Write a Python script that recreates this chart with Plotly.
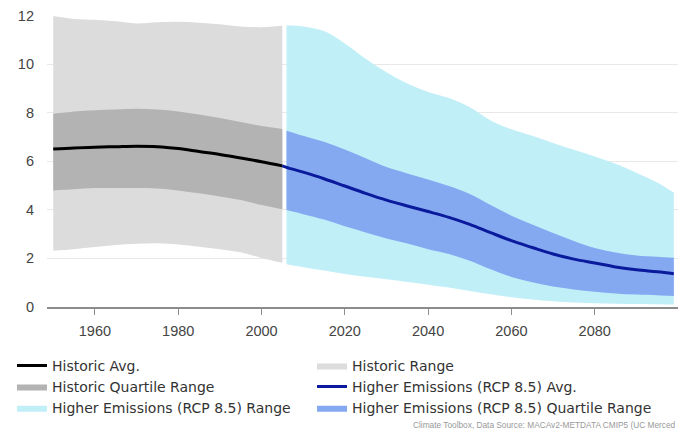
import plotly.graph_objects as go

# ---------------- data ----------------
hist_years = [1950, 1955, 1960, 1965, 1970, 1975, 1980, 1985, 1990, 1995, 2000, 2005]
hist_avg = [6.50, 6.55, 6.58, 6.60, 6.62, 6.60, 6.52, 6.40, 6.28, 6.13, 5.98, 5.81]
hist_q_lo = [4.80, 4.85, 4.90, 4.90, 4.90, 4.88, 4.80, 4.68, 4.55, 4.40, 4.20, 4.02]
hist_q_hi = [7.95, 8.05, 8.10, 8.13, 8.16, 8.13, 8.05, 7.92, 7.78, 7.62, 7.45, 7.33]
hist_r_lo = [2.32, 2.38, 2.47, 2.55, 2.60, 2.62, 2.57, 2.48, 2.38, 2.25, 2.02, 1.82]
hist_r_hi = [11.98, 11.86, 11.82, 11.76, 11.67, 11.72, 11.74, 11.70, 11.64, 11.55, 11.52, 11.58]

rcp_years = [2006, 2010, 2015, 2020, 2025, 2030, 2035, 2040, 2045, 2050,
             2055, 2060, 2065, 2070, 2075, 2080, 2085, 2090, 2095, 2099]
rcp_avg_years = [2005] + rcp_years
rcp_avg = [5.81, 5.75, 5.55, 5.28, 4.98, 4.68, 4.40, 4.16, 3.93, 3.69, 3.40,
           3.06, 2.73, 2.45, 2.18, 1.97, 1.81, 1.65, 1.53, 1.45, 1.37]
rcp_q_lo = [3.99, 3.82, 3.60, 3.32, 3.07, 2.82, 2.61, 2.38, 2.18, 1.90,
            1.55, 1.24, 1.02, 0.84, 0.72, 0.63, 0.56, 0.51, 0.48, 0.45]
rcp_q_hi = [7.26, 7.05, 6.80, 6.48, 6.12, 5.76, 5.50, 5.25, 4.98, 4.65,
            4.20, 3.76, 3.40, 3.05, 2.72, 2.43, 2.24, 2.12, 2.07, 2.03]
rcp_r_lo = [1.76, 1.64, 1.50, 1.36, 1.25, 1.14, 1.03, 0.92, 0.80, 0.66,
            0.52, 0.40, 0.31, 0.24, 0.19, 0.15, 0.13, 0.12, 0.11, 0.10]
rcp_r_hi = [11.60, 11.55, 11.36, 10.85, 10.22, 9.66, 9.20, 8.85, 8.60, 8.22,
            7.68, 7.32, 7.05, 6.75, 6.47, 6.20, 5.90, 5.53, 5.12, 4.70]

x_ticks = [1960, 1980, 2000, 2020, 2040, 2060, 2080]
y_ticks = [0, 2, 4, 6, 8, 10, 12]

names = {
    "hist_avg": "Historic Avg.",
    "hist_range": "Historic Range",
    "hist_quart": "Historic Quartile Range",
    "rcp_avg": "Higher Emissions (RCP 8.5) Avg.",
    "rcp_range": "Higher Emissions (RCP 8.5) Range",
    "rcp_quart": "Higher Emissions (RCP 8.5) Quartile Range",
}
source_text = "Climate Toolbox, Data Source: MACAv2-METDATA CMIP5 (UC Merced"

# ---------------- colours ----------------
C_HIST_RANGE = "#dcdcdc"
C_HIST_QUART = "#b3b3b3"
C_HIST_AVG = "#000000"
C_RCP_RANGE = "#c1eff8"
C_RCP_QUART = "#84a9f1"
C_RCP_AVG = "#0a1a9c"

fig = go.Figure()


def band(x, lo, hi, color, name, rank, legend):
    fig.add_trace(go.Scatter(x=x, y=lo, mode="lines", line=dict(width=0, shape="spline", color=color),
                             showlegend=False, hoverinfo="skip"))
    fig.add_trace(go.Scatter(x=x, y=hi, mode="lines", line=dict(width=0, shape="spline", color=color),
                             fill="tonexty", fillcolor=color, name=name, legendrank=rank,
                             legend=legend, hoverinfo="skip"))


band(hist_years, hist_r_lo, hist_r_hi, C_HIST_RANGE, names["hist_range"], 1, "legend2")
band(hist_years, hist_q_lo, hist_q_hi, C_HIST_QUART, names["hist_quart"], 2, "legend")
fig.add_trace(go.Scatter(x=hist_years, y=hist_avg, mode="lines",
                         line=dict(color=C_HIST_AVG, width=3, shape="spline"),
                         name=names["hist_avg"], legendrank=1, legend="legend"))
band(rcp_years, rcp_r_lo, rcp_r_hi, C_RCP_RANGE, names["rcp_range"], 3, "legend")
band(rcp_years, rcp_q_lo, rcp_q_hi, C_RCP_QUART, names["rcp_quart"], 3, "legend2")
fig.add_trace(go.Scatter(x=rcp_avg_years, y=rcp_avg, mode="lines",
                         line=dict(color=C_RCP_AVG, width=3, shape="spline"),
                         name=names["rcp_avg"], legendrank=2, legend="legend2"))

fig.add_annotation(text=source_text, xref="paper", yref="paper", x=1.0, y=-0.404,
                   xanchor="right", yanchor="middle", showarrow=False,
                   font=dict(family="Liberation Sans, Arial", size=8.3, color="#999999"))

legend_common = dict(orientation="v", yanchor="top", xanchor="left", traceorder="normal",
                     font=dict(family="DejaVu Sans", size=14, color="#333333"),
                     bgcolor="rgba(0,0,0,0)", tracegroupgap=0)

fig.update_layout(
    width=678, height=431,
    margin=dict(l=47, r=0, t=15, b=124),
    paper_bgcolor="white", plot_bgcolor="white",
    font=dict(family="Liberation Sans, Arial", color="#444444"),
    showlegend=True,
    legend=dict(x=-0.0555, y=-0.1465, **legend_common),
    legend2=dict(x=0.42, y=-0.1465, **legend_common),
    xaxis=dict(range=[1948.5, 2100], tickvals=x_ticks, ticktext=[str(v) for v in x_ticks],
               showgrid=False, zeroline=False, showline=True, linecolor="#8c8c8c", linewidth=1.5,
               ticks="outside", ticklen=6, tickcolor="#8c8c8c", tickwidth=1,
               tickfont=dict(size=14.5, color="#444444"), ticklabelstandoff=4),
    yaxis=dict(range=[0, 12.02], tickvals=y_ticks, ticktext=[str(v) for v in y_ticks],
               showgrid=True, gridcolor="#e8e8e8", gridwidth=1, zeroline=False, showline=False,
               tickfont=dict(size=14.5, color="#444444"), ticklabelstandoff=12),
)

fig.write_html("out.html", post_script="document.body.style.margin='0';",
               config={"displayModeBar": False})
